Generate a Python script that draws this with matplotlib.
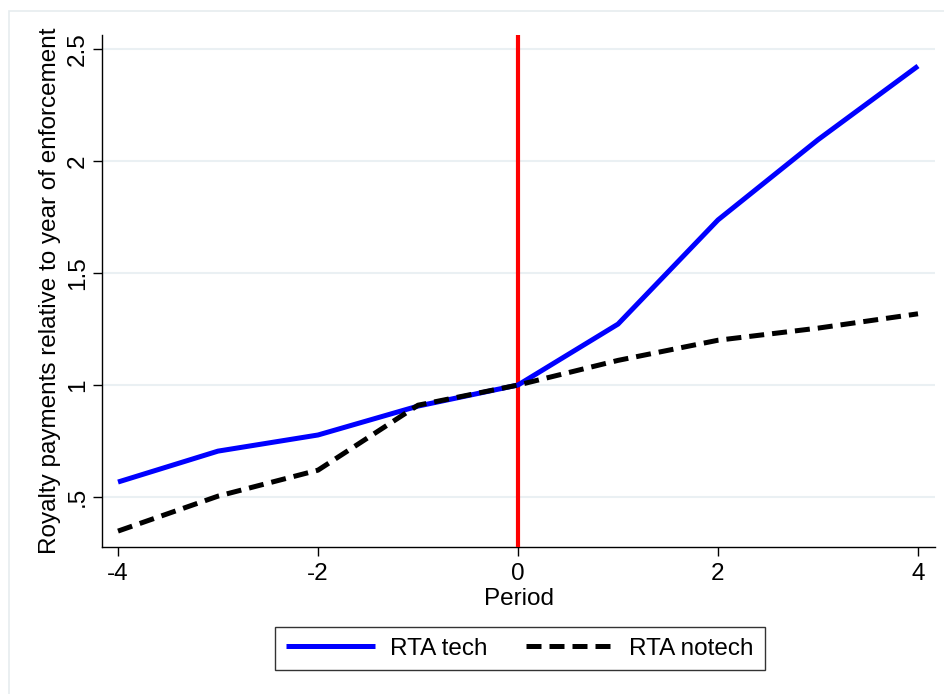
import matplotlib
matplotlib.use("Agg")
import matplotlib.pyplot as plt
from matplotlib.patches import Rectangle

plt.rcParams['font.family'] = ['Liberation Sans', 'DejaVu Sans']

periods = [-4, -3, -2, -1, 0, 1, 2, 3, 4]
rta_tech = [0.567, 0.705, 0.777, 0.906, 1.0, 1.272, 1.737, 2.095, 2.424]
rta_notech = [0.348, 0.504, 0.620, 0.910, 1.0, 1.110, 1.200, 1.254, 1.318]
xticks = [-4, -2, 0, 2, 4]
yticks = [0.5, 1, 1.5, 2, 2.5]
ytick_labels = ['.5', '1', '1.5', '2', '2.5']

FS = 17.5
W, H = 944, 694
fig = plt.figure(figsize=(W / 100, H / 100), dpi=100)
fig.patch.set_facecolor('white')

# outer graph region frame
fig.add_artist(Rectangle((9 / W, -0.1), 1.2, (H - 11) / H + 0.1, transform=fig.transFigure,
                         fill=False, edgecolor='#e6ecef', linewidth=1.2))

ax = fig.add_axes([102 / W, (H - 547) / H, (935 - 102) / W, (547 - 35) / H])
ax.set_xlim(-4.16, 4.17)
ax.set_ylim(0.277, 2.5625)

for y in yticks:
    ax.axhline(y, color='#eaf0f3', linewidth=1.5, zorder=0)

ax.axvline(0, color='#ff0000', linewidth=3.0, zorder=3)
ax.plot(periods, rta_tech, color='#0000ff', linewidth=3.6, label='RTA tech', zorder=4,
        solid_capstyle='butt')
ax.plot(periods, rta_notech, color='black', linewidth=3.6, linestyle=(0, (3, 1.6)),
        label='RTA notech', zorder=5)

for s in ['top', 'right']:
    ax.spines[s].set_visible(False)
for s in ['left', 'bottom']:
    ax.spines[s].set_linewidth(1.0)

ax.set_xticks(xticks)
ax.set_xticklabels([str(x) for x in xticks])
ax.set_yticks(yticks)
ax.set_yticklabels(ytick_labels, rotation=90, va='center')
ax.tick_params(axis='both', labelsize=FS, length=6.5, width=1.0, pad=3)
ax.tick_params(axis='x', pad=5)

ax.set_xlabel('Period', fontsize=FS, labelpad=2)
ax.set_ylabel('Royalty payments relative to year of enforcement', fontsize=FS, labelpad=4)

leg = fig.legend(loc='center', bbox_to_anchor=(520 / W, 1 - 648.5 / H), ncol=2, fontsize=FS,
                 frameon=True, fancybox=False, edgecolor='black', handlelength=3.65,
                 columnspacing=1.6, borderpad=0.45, handletextpad=0.6)
leg.get_frame().set_linewidth(1.0)

fig.savefig('out.png', dpi=100)
